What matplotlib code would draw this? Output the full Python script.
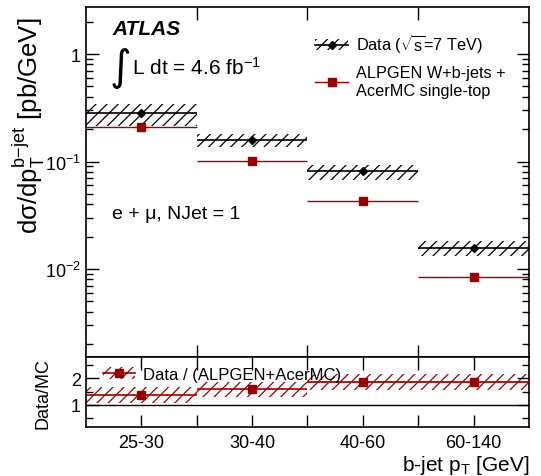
import numpy as np
import matplotlib.pyplot as plt
from matplotlib.lines import Line2D
from matplotlib.patches import Patch

plt.rcParams['font.family'] = ['Liberation Sans', 'DejaVu Sans']
plt.rcParams['mathtext.fontset'] = 'custom'
plt.rcParams['mathtext.rm'] = 'Liberation Sans'
plt.rcParams['mathtext.it'] = 'Liberation Sans:italic'
plt.rcParams['hatch.linewidth'] = 0.9

# bins of b-jet pT
bins = ['25-30', '30-40', '40-60', '60-140']

# cross section [pb/GeV]
data = [0.285, 0.159, 0.0815, 0.0158]
data_up = [0.345, 0.181, 0.093, 0.0183]
data_lo = [0.215, 0.137, 0.067, 0.0132]
mc = [0.211, 0.101, 0.0426, 0.0084]

# data / MC
ratio = [1.37, 1.58, 1.87, 1.87]
ratio_err = [0.29, 0.28, 0.30, 0.30]

dark_red = '#990000'

fig = plt.figure(figsize=(5.41, 4.77), dpi=100)
ax = fig.add_axes([0.1584, 0.2488, 0.8196, 0.7338])
rx = fig.add_axes([0.1584, 0.1021, 0.8196, 0.1467], sharex=ax)

x = np.arange(len(bins))

# main panel
for i in x:
    ax.fill_between([i - 0.5, i + 0.5], data_lo[i], data_up[i],
                    facecolor='none', edgecolor='black', linewidth=0, hatch='///')
ax.errorbar(x, data, xerr=0.5, fmt='D', color='black', ms=4, lw=1.2,
            capsize=0, zorder=5)
ax.errorbar(x, mc, xerr=0.5, fmt='s', color=dark_red, ms=6, lw=1.0,
            capsize=0, zorder=4)

ax.set_yscale('log')
ax.set_ylim(1.51e-3, 2.72)
ax.set_xlim(-0.5, 3.5)
ax.set_yticks([1e-2, 1e-1, 1])
ax.set_yticklabels(['$10^{-2}$', '$10^{-1}$', '1'])
ax.set_ylabel('d\u03c3/dp$_{\\mathrm{T}}^{\\mathrm{b\\!-\\!jet}}$ [pb/GeV]', fontsize=18.5)
ax.yaxis.set_label_coords(-0.088, 0.665)

ax.text(0.06, 0.94, 'ATLAS', transform=ax.transAxes, fontsize=15,
        fontweight='bold', fontstyle='italic', va='center')
ax.text(0.055, 0.83, '\u222b', transform=ax.transAxes, fontsize=30,
        va='center', family='DejaVu Sans')
ax.text(0.105, 0.83, r'L dt = 4.6 fb$^{-1}$', transform=ax.transAxes,
        fontsize=15, va='center')
ax.text(0.06, 0.41, 'e + \u03bc, NJet = 1', transform=ax.transAxes,
        fontsize=14, va='center')

h_data = (Patch(facecolor='none', edgecolor='black', linewidth=0, hatch='///'),
          Line2D([], [], color='black', marker='D', ms=4, lw=1.2))
h_mc = Line2D([], [], color=dark_red, marker='s', ms=6, lw=1.0)
ax.legend([h_data, h_mc],
          [r'Data ($\sqrt{\mathrm{s}}$=7 TeV)', 'ALPGEN W+b-jets +\nAcerMC single-top'],
          loc='upper left', bbox_to_anchor=(0.485, 0.97), frameon=False,
          fontsize=11.7, handlelength=2.0, handletextpad=0.5, labelspacing=0.6)

# ratio panel
for i in x:
    rx.fill_between([i - 0.5, i + 0.5], ratio[i] - ratio_err[i], ratio[i] + ratio_err[i],
                    facecolor='none', edgecolor=dark_red, linewidth=0, hatch='///')
rx.fill_between([1.5, 3.5], 1.83, 1.91, color='#d99090', alpha=0.6, linewidth=0)
rx.axhline(1, color='black', lw=1.0)
rx.errorbar(x, ratio, xerr=0.5, fmt='s', color=dark_red, ms=6, lw=1.2,
            capsize=0, zorder=5)
rx.set_ylim(0.14, 2.8)
rx.set_yticks([1, 2])
rx.set_yticks([0.5, 1.5, 2.5], minor=True)
rx.set_ylabel('Data/MC', fontsize=13)
rx.yaxis.set_label_coords(-0.077, 0.5)

h_ratio = (Patch(facecolor='none', edgecolor=dark_red, linewidth=0, hatch='///'),
           Line2D([], [], color=dark_red, marker='s', ms=6, lw=1.2))
rx.legend([h_ratio], ['Data / (ALPGEN+AcerMC)'], loc='upper left',
          bbox_to_anchor=(0.005, 1.08), frameon=False, fontsize=12,
          handlelength=1.9, handletextpad=0.5)

rx.set_xticks(x)
rx.set_xticklabels(bins, fontsize=13)
rx.set_xticks(x[:-1] + 0.5, minor=True)
rx.tick_params(axis='x', which='major', length=0, pad=5)
rx.set_xlabel(r'b-jet p$_{\mathrm{T}}$ [GeV]', fontsize=15, loc='right')
rx.xaxis.set_label_coords(1.0, -0.37)

for a in (ax, rx):
    a.tick_params(which='both', direction='in', top=True, right=True,
                  labelsize=13, width=1.0)
    a.tick_params(which='major', length=9)
    a.tick_params(which='minor', length=5)
    for s in a.spines.values():
        s.set_linewidth(1.2)
ax.tick_params(axis='x', which='both', labelbottom=False, length=0)
ax.set_xticks(x[:-1] + 0.5, minor=True)
ax.tick_params(axis='x', which='minor', length=9)
rx.tick_params(axis='x', which='minor', length=9)

fig.savefig('out.png', dpi=100)
